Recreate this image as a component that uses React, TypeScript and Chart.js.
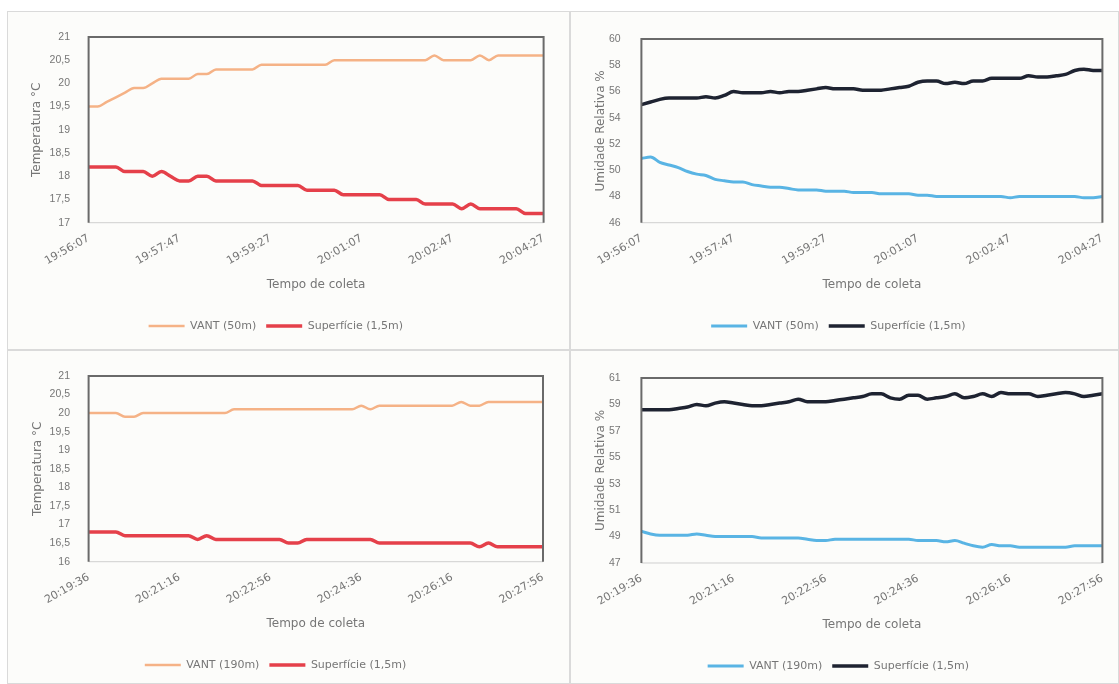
import React, { useEffect, useRef } from 'react';
import { Chart, registerables } from 'chart.js';

Chart.register(...registerables);

// ---------- categories (sampling every 10 s) ----------
const timesFlight50: string[] = [
  '19:56:07', '19:56:17', '19:56:27', '19:56:37', '19:56:47', '19:56:57', '19:57:07', '19:57:17', '19:57:27', '19:57:37',
  '19:57:47', '19:57:57', '19:58:07', '19:58:17', '19:58:27', '19:58:37', '19:58:47', '19:58:57', '19:59:07', '19:59:17',
  '19:59:27', '19:59:37', '19:59:47', '19:59:57', '20:00:07', '20:00:17', '20:00:27', '20:00:37', '20:00:47', '20:00:57',
  '20:01:07', '20:01:17', '20:01:27', '20:01:37', '20:01:47', '20:01:57', '20:02:07', '20:02:17', '20:02:27', '20:02:37',
  '20:02:47', '20:02:57', '20:03:07', '20:03:17', '20:03:27', '20:03:37', '20:03:47', '20:03:57', '20:04:07', '20:04:17',
  '20:04:27',
];
const timesFlight190: string[] = [
  '20:19:36', '20:19:46', '20:19:56', '20:20:06', '20:20:16', '20:20:26', '20:20:36', '20:20:46', '20:20:56', '20:21:06',
  '20:21:16', '20:21:26', '20:21:36', '20:21:46', '20:21:56', '20:22:06', '20:22:16', '20:22:26', '20:22:36', '20:22:46',
  '20:22:56', '20:23:06', '20:23:16', '20:23:26', '20:23:36', '20:23:46', '20:23:56', '20:24:06', '20:24:16', '20:24:26',
  '20:24:36', '20:24:46', '20:24:56', '20:25:06', '20:25:16', '20:25:26', '20:25:36', '20:25:46', '20:25:56', '20:26:06',
  '20:26:16', '20:26:26', '20:26:36', '20:26:46', '20:26:56', '20:27:06', '20:27:16', '20:27:26', '20:27:36', '20:27:46',
  '20:27:56',
];

// ---------- series ----------
const tempVant50: number[] = [
  19.5, 19.5, 19.6, 19.7, 19.8, 19.9, 19.9, 20.0, 20.1, 20.1,
  20.1, 20.1, 20.2, 20.2, 20.3, 20.3, 20.3, 20.3, 20.3, 20.4,
  20.4, 20.4, 20.4, 20.4, 20.4, 20.4, 20.4, 20.5, 20.5, 20.5,
  20.5, 20.5, 20.5, 20.5, 20.5, 20.5, 20.5, 20.5, 20.6, 20.5,
  20.5, 20.5, 20.5, 20.6, 20.5, 20.6, 20.6, 20.6, 20.6, 20.6,
  20.6,
];
const tempSup50: number[] = [
  18.2, 18.2, 18.2, 18.2, 18.1, 18.1, 18.1, 18.0, 18.1, 18.0,
  17.9, 17.9, 18.0, 18.0, 17.9, 17.9, 17.9, 17.9, 17.9, 17.8,
  17.8, 17.8, 17.8, 17.8, 17.7, 17.7, 17.7, 17.7, 17.6, 17.6,
  17.6, 17.6, 17.6, 17.5, 17.5, 17.5, 17.5, 17.4, 17.4, 17.4,
  17.4, 17.3, 17.4, 17.3, 17.3, 17.3, 17.3, 17.3, 17.2, 17.2,
  17.2,
];
const humVant50: number[] = [
  50.9, 51.0, 50.6, 50.4, 50.2, 49.9, 49.7, 49.6, 49.3, 49.2,
  49.1, 49.1, 48.9, 48.8, 48.7, 48.7, 48.6, 48.5, 48.5, 48.5,
  48.4, 48.4, 48.4, 48.3, 48.3, 48.3, 48.2, 48.2, 48.2, 48.2,
  48.1, 48.1, 48.0, 48.0, 48.0, 48.0, 48.0, 48.0, 48.0, 48.0,
  47.9, 48.0, 48.0, 48.0, 48.0, 48.0, 48.0, 48.0, 47.9, 47.9,
  48.0,
];
const humSup50: number[] = [
  55.0, 55.2, 55.4, 55.5, 55.5, 55.5, 55.5, 55.6, 55.5, 55.7,
  56.0, 55.9, 55.9, 55.9, 56.0, 55.9, 56.0, 56.0, 56.1, 56.2,
  56.3, 56.2, 56.2, 56.2, 56.1, 56.1, 56.1, 56.2, 56.3, 56.4,
  56.7, 56.8, 56.8, 56.6, 56.7, 56.6, 56.8, 56.8, 57.0, 57.0,
  57.0, 57.0, 57.2, 57.1, 57.1, 57.2, 57.3, 57.6, 57.7, 57.6,
  57.6,
];
const tempVant190: number[] = [
  20.0, 20.0, 20.0, 20.0, 19.9, 19.9, 20.0, 20.0, 20.0, 20.0,
  20.0, 20.0, 20.0, 20.0, 20.0, 20.0, 20.1, 20.1, 20.1, 20.1,
  20.1, 20.1, 20.1, 20.1, 20.1, 20.1, 20.1, 20.1, 20.1, 20.1,
  20.2, 20.1, 20.2, 20.2, 20.2, 20.2, 20.2, 20.2, 20.2, 20.2,
  20.2, 20.3, 20.2, 20.2, 20.3, 20.3, 20.3, 20.3, 20.3, 20.3,
  20.3,
];
const tempSup190: number[] = [
  16.8, 16.8, 16.8, 16.8, 16.7, 16.7, 16.7, 16.7, 16.7, 16.7,
  16.7, 16.7, 16.6, 16.7, 16.6, 16.6, 16.6, 16.6, 16.6, 16.6,
  16.6, 16.6, 16.5, 16.5, 16.6, 16.6, 16.6, 16.6, 16.6, 16.6,
  16.6, 16.6, 16.5, 16.5, 16.5, 16.5, 16.5, 16.5, 16.5, 16.5,
  16.5, 16.5, 16.5, 16.4, 16.5, 16.4, 16.4, 16.4, 16.4, 16.4,
  16.4,
];
const humVant190: number[] = [
  49.4, 49.2, 49.1, 49.1, 49.1, 49.1, 49.2, 49.1, 49.0, 49.0,
  49.0, 49.0, 49.0, 48.9, 48.9, 48.9, 48.9, 48.9, 48.8, 48.7,
  48.7, 48.8, 48.8, 48.8, 48.8, 48.8, 48.8, 48.8, 48.8, 48.8,
  48.7, 48.7, 48.7, 48.6, 48.7, 48.5, 48.3, 48.2, 48.4, 48.3,
  48.3, 48.2, 48.2, 48.2, 48.2, 48.2, 48.2, 48.3, 48.3, 48.3,
  48.3,
];
const humSup190: number[] = [
  58.6, 58.6, 58.6, 58.6, 58.7, 58.8, 59.0, 58.9, 59.1, 59.2,
  59.1, 59.0, 58.9, 58.9, 59.0, 59.1, 59.2, 59.4, 59.2, 59.2,
  59.2, 59.3, 59.4, 59.5, 59.6, 59.8, 59.8, 59.5, 59.4, 59.7,
  59.7, 59.4, 59.5, 59.6, 59.8, 59.5, 59.6, 59.8, 59.6, 59.9,
  59.8, 59.8, 59.8, 59.6, 59.7, 59.8, 59.9, 59.8, 59.6, 59.7,
  59.8,
];

// ---------- text ----------
const xTitle = 'Tempo de coleta';
const yTitleTemp = 'Temperatura °C';
const yTitleHum = 'Umidade Relativa %';
const legendVant50 = 'VANT (50m)';
const legendVant190 = 'VANT (190m)';
const legendSup = 'Superfície (1,5m)';

const ORANGE = '#f5b286';
const RED = '#e5404a';
const BLUE = '#59b4e4';
const BLACK = '#1e2331';
const TEXT = '#767676';

type Spec = {
  key: string;
  x: number; y: number; w: number; h: number;
  labels: string[];
  s1: number[]; s2: number[];
  l1: string; l2: string;
  c1: string; c2: string;
  w1: number; w2: number;
  yMin: number; yMax: number; yStep: number;
  yTitle: string;
  plotLeft: number; plotTop: number; plotRight: number; plotBottom: number;
  titleY: number; legendY: number;
  yTitleX: number; yTickRight: number;
};

const panels: Spec[] = [
  {
    key: 'tl', x: 7, y: 11, w: 563, h: 339, labels: timesFlight50,
    s1: tempVant50, s2: tempSup50, l1: legendVant50, l2: legendSup, c1: ORANGE, c2: RED, w1: 2.5, w2: 3.5,
    yMin: 17, yMax: 21, yStep: 0.5, yTitle: yTitleTemp,
    plotLeft: 80.6, plotTop: 17.3, plotRight: 535.6, plotBottom: 210.7, titleY: 273, legendY: 314,
    yTitleX: 28.7, yTickRight: 62,
  },
  {
    key: 'tr', x: 570, y: 11, w: 549, h: 339, labels: timesFlight50,
    s1: humVant50, s2: humSup50, l1: legendVant50, l2: legendSup, c1: BLUE, c2: BLACK, w1: 3, w2: 3.5,
    yMin: 46, yMax: 60, yStep: 2, yTitle: yTitleHum,
    plotLeft: 70.4, plotTop: 17.3, plotRight: 534.7, plotBottom: 210.7, titleY: 273, legendY: 314,
    yTitleX: 30, yTickRight: 49.7,
  },
  {
    key: 'bl', x: 7, y: 350, w: 563, h: 334, labels: timesFlight190,
    s1: tempVant190, s2: tempSup190, l1: legendVant190, l2: legendSup, c1: ORANGE, c2: RED, w1: 2.5, w2: 3.5,
    yMin: 16, yMax: 21, yStep: 0.5, yTitle: yTitleTemp,
    plotLeft: 80.6, plotTop: 18, plotRight: 535, plotBottom: 210.7, titleY: 273, legendY: 314,
    yTitleX: 29.5, yTickRight: 62,
  },
  {
    key: 'br', x: 570, y: 350, w: 549, h: 334, labels: timesFlight190,
    s1: humVant190, s2: humSup190, l1: legendVant190, l2: legendSup, c1: BLUE, c2: BLACK, w1: 3, w2: 3.5,
    yMin: 47, yMax: 61, yStep: 2, yTitle: yTitleHum,
    plotLeft: 70.4, plotTop: 18, plotRight: 534.7, plotBottom: 212, titleY: 274, legendY: 315,
    yTitleX: 30, yTickRight: 49.7,
  },
];

const framePlugin = {
  id: 'frame',
  afterDatasetsDraw(chart: any) {
    const { ctx, chartArea } = chart;
    const { left, top, right, bottom } = chartArea;
    ctx.save();
    ctx.strokeStyle = '#cfcfcf';
    ctx.lineWidth = 1;
    ctx.beginPath();
    ctx.moveTo(left, bottom);
    ctx.lineTo(right, bottom);
    ctx.stroke();
    ctx.strokeStyle = '#6a6a6a';
    ctx.lineWidth = 2;
    ctx.beginPath();
    ctx.moveTo(left, bottom);
    ctx.lineTo(left, top);
    ctx.lineTo(right, top);
    ctx.lineTo(right, bottom);
    ctx.stroke();
    ctx.restore();
  },
};

function buildConfig(s: Spec): any {
  const cw = s.w - 2;
  const ch = s.h - 2;
  const legendFont = 11;
  const legendPad = 10;
  const legendH = legendFont + legendPad + 10;
  const legendTop = s.legendY - (legendPad + legendFont / 2);
  const bottomPad = ch - legendTop - legendH;
  const xH = legendTop - s.plotBottom;
  const titleFont = 12;
  const titlePadBottom = legendTop - (titleFont * 1.2) / 2 - s.titleY;
  const yTitleFont = 12;
  const yTitlePad = s.yTitleX - (yTitleFont * 1.2) / 2;
  const labels = s.labels;
  return {
    type: 'line',
    data: {
      labels,
      datasets: [
        {
          label: s.l1, data: s.s1, borderColor: s.c1, backgroundColor: s.c1, borderWidth: s.w1,
          pointRadius: 0, pointHoverRadius: 0, cubicInterpolationMode: 'monotone', fill: false,
        },
        {
          label: s.l2, data: s.s2, borderColor: s.c2, backgroundColor: s.c2, borderWidth: s.w2,
          pointRadius: 0, pointHoverRadius: 0, cubicInterpolationMode: 'monotone', fill: false,
        },
      ],
    },
    options: {
      animation: false,
      responsive: false,
      devicePixelRatio: 1,
      layout: { padding: { top: s.plotTop, left: 0, right: cw - s.plotRight, bottom: bottomPad } },
      plugins: {
        tooltip: { enabled: false },
        legend: {
          display: true,
          position: 'bottom',
          labels: {
            usePointStyle: true,
            pointStyle: 'line',
            pointStyleWidth: 36,
            padding: legendPad,
            color: TEXT,
            font: { family: "'DejaVu Sans', sans-serif", size: legendFont },
          },
        },
      },
      scales: {
        x: {
          type: 'category',
          offset: false,
          grid: { display: false, drawTicks: false },
          border: { display: false },
          ticks: {
            autoSkip: false,
            minRotation: 30,
            maxRotation: 30,
            padding: 9,
            color: TEXT,
            font: { family: "'DejaVu Sans', sans-serif", size: 11 },
            callback: (_v: any, i: number) => (i % 10 === 0 ? labels[i] : ''),
          },
          title: {
            display: true,
            text: xTitle,
            color: TEXT,
            font: { family: "'DejaVu Sans', sans-serif", size: titleFont },
            padding: { top: 0, bottom: titlePadBottom },
          },
          afterFit: (scale: any) => { scale.height = xH; },
        },
        y: {
          type: 'linear',
          min: s.yMin,
          max: s.yMax,
          grid: { display: false, drawTicks: false },
          border: { display: false },
          ticks: {
            stepSize: s.yStep,
            padding: s.plotLeft - s.yTickRight,
            color: TEXT,
            font: { family: "'Liberation Sans', sans-serif", size: 10.5 },
            callback: (v: any) => String(Math.round(Number(v) * 10) / 10).replace('.', ','),
          },
          title: {
            display: true,
            text: s.yTitle,
            color: TEXT,
            font: { family: "'DejaVu Sans', sans-serif", size: yTitleFont },
            padding: { top: yTitlePad, bottom: 0 },
          },
          afterFit: (scale: any) => { scale.width = s.plotLeft; },
        },
      },
    },
    plugins: [framePlugin],
  };
}

function Panel({ spec }: { spec: Spec }) {
  const ref = useRef<HTMLCanvasElement | null>(null);
  useEffect(() => {
    if (!ref.current) return;
    const chart = new Chart(ref.current, buildConfig(spec));
    return () => chart.destroy();
  }, [spec]);
  const cw = spec.w - 2;
  const ch = spec.h - 2;
  return (
    <div
      style={{
        position: 'absolute', left: spec.x, top: spec.y, width: spec.w, height: spec.h,
        boxSizing: 'border-box', border: '1px solid #dadada', background: '#fcfcfa',
      }}
    >
      <canvas ref={ref} width={cw} height={ch} style={{ display: 'block', width: cw, height: ch }} />
    </div>
  );
}

export default function App() {
  return (
    <div style={{ position: 'absolute', left: 0, top: 0, width: 1119, height: 684, overflow: 'hidden', background: '#ffffff' }}>
      {panels.map((p) => (
        <Panel key={p.key} spec={p} />
      ))}
    </div>
  );
}
